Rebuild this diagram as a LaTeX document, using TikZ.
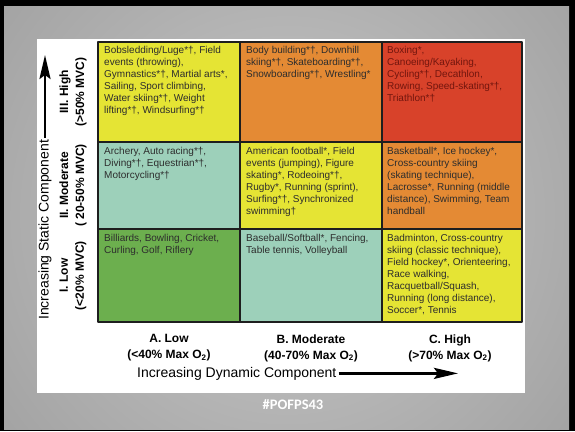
\documentclass[tikz,border=0pt]{standalone}
\usepackage{fontspec}
\usepackage{xcolor}
\setmainfont{Liberation Sans}
\newfontfamily\tagfont{Carlito}
\usetikzlibrary{arrows.meta}

% Colores de las celdas
\definecolor{cellyellow}{RGB}{229,228,52}
\definecolor{cellorange}{RGB}{228,138,52}
\definecolor{cellred}{RGB}{216,66,42}
\definecolor{cellteal}{RGB}{157,208,186}
\definecolor{cellgreen}{RGB}{108,175,78}
\definecolor{celltxt}{RGB}{45,45,45}
\definecolor{celltxtred}{RGB}{115,22,14}
\definecolor{gridedge}{RGB}{30,30,30}
% Fondo de la diapositiva
\definecolor{bgcentre}{RGB}{200,200,200}
\definecolor{bgmid}{RGB}{160,160,160}
\definecolor{bgside}{RGB}{66,66,66}
\definecolor{bgcorner}{RGB}{28,28,28}
\pgfdeclareradialshading{slideglow}{\pgfpoint{0bp}{0bp}}{color(0bp)=(bgcentre); color(27bp)=(bgmid); color(38bp)=(bgside); color(46bp)=(bgcorner); color(50bp)=(bgcorner)}

\begin{document}
\begin{tikzpicture}[x=1pt, y=-1pt, line cap=round, line join=round,
  celltext/.style={anchor=north west, align=left, inner sep=0pt, text=celltxt,
    font=\fontsize{10}{12}\selectfont},
  levellabel/.style={align=center, inner sep=0pt, font=\bfseries\fontsize{12}{16}\selectfont},
  axislabel/.style={inner sep=2pt, font=\fontsize{14}{16}\selectfont},
  axisarrow/.style={line width=2.6pt, line cap=butt, -{Stealth[length=24pt, width=11pt, inset=4pt]}},
  gridline/.style={line width=1.3pt, gridedge}]

\useasboundingbox (0,0) rectangle (575,431);

% === FONDO (diapositiva) ===
\fill[black] (0,0) rectangle (575,431);
\begin{scope}
    \clip (4,6) rectangle (569,429);
    \shade[shading=slideglow] (287,215) ++(-360,-360) rectangle ++(720,720);
\end{scope}
% Panel blanco
\fill[white] (37,39) rectangle (525,393);

% === CUADRICULA ===
% Relleno de las celdas
\foreach \xa/\xb/\ya/\yb/\c in {98/240/42/142/cellyellow, 240/382/42/142/cellorange,
    382/522/42/142/cellred, 98/240/142/229/cellteal, 240/382/142/229/cellyellow,
    382/522/142/229/cellorange, 98/240/229/322/cellgreen, 240/382/229/322/cellteal,
    382/522/229/322/cellyellow}{
    \fill[\c] (\xa,\ya) rectangle (\xb,\yb);
}
% Lineas interiores
\foreach \x in {240,382}{
    \draw[gridline] (\x,42) -- (\x,322);
}
\foreach \y in {142,229}{
    \draw[gridline] (98,\y) -- (522,\y);
}
% Borde exterior
\draw[line width=2pt, gridedge] (98,42) rectangle (522,322);

% === TEXTOS DE LAS CELDAS ===
% Fila III (alta)
\node[celltext] (a3) at (104,46) {Bobsledding/Luge*†, Field\\events (throwing),\\Gymnastics*†, Martial arts*,\\Sailing, Sport climbing,\\Water skiing*†, Weight\\lifting*†, Windsurfing*†};
\node[celltext] (b3) at (246,46) {Body building*†, Downhill\\skiing*†, Skateboarding*†,\\Snowboarding*†, Wrestling*};
\node[celltext, text=celltxtred] (c3) at (387,46) {Boxing*,\\Canoeing/Kayaking,\\Cycling*†, Decathlon,\\Rowing, Speed-skating*†,\\Triathlon*†};
% Fila II (moderada)
\node[celltext] (a2) at (104,147) {Archery, Auto racing*†,\\Diving*†, Equestrian*†,\\Motorcycling*†};
\node[celltext] (b2) at (246,147) {American football*, Field\\events (jumping), Figure\\skating*, Rodeoing*†,\\Rugby*, Running (sprint),\\Surfing*†, Synchronized\\swimming†};
\node[celltext] (c2) at (387,147) {Basketball*, Ice hockey*,\\Cross-country skiing\\(skating technique),\\Lacrosse*, Running (middle\\distance), Swimming, Team\\handball};
% Fila I (baja)
\node[celltext] (a1) at (104,234) {Billiards, Bowling, Cricket,\\Curling, Golf, Riflery};
\node[celltext] (b1) at (246,234) {Baseball/Softball*, Fencing,\\Table tennis, Volleyball};
\node[celltext] (c1) at (387,234) {Badminton, Cross-country\\skiing (classic technique),\\Field hockey*, Orienteering,\\Race walking,\\Racquetball/Squash,\\Running (long distance),\\Soccer*, Tennis};

% === ETIQUETAS DEL COMPONENTE ESTATICO (izquierda) ===
\node[levellabel, rotate=90] (high) at (73,92) {III. High\\(>50\% MVC)};
\node[levellabel, rotate=90] (moderate) at (73,185.5) {II. Moderate\\(\ 20-50\% MVC)};
\node[levellabel, rotate=90] (low) at (73,275.5) {I. Low\\(<20\% MVC)};
% Eje vertical con flecha
\node[axislabel, rotate=90, anchor=west] (stat) at (45,322) {Increasing Static Component};
\coordinate (stattip) at (45,55);
\draw[axisarrow] (stat.east) -- (stattip);

% === ETIQUETAS DEL COMPONENTE DINAMICO (abajo) ===
\node[levellabel] (lowdyn) at (169,348) {A. Low\\(<40\% Max O\textsubscript{2})};
\node[levellabel] (moddyn) at (311,348) {B. Moderate\\(40-70\% Max O\textsubscript{2})};
\node[levellabel] (highdyn) at (450,348) {C. High\\(>70\% Max O\textsubscript{2})};
% Eje horizontal con flecha
\node[axislabel, anchor=base west] (dyn) at (135,377) {Increasing Dynamic Component};
\coordinate (dyntip) at (458,374);
\draw[axisarrow] (dyn.east) -- (dyn.east -| dyntip);

% Etiqueta de la diapositiva
\node[font=\tagfont\bfseries\fontsize{14.5}{16}\selectfont, text=white] (tag) at (293,405) {\#POFPS43};

\end{tikzpicture}
\end{document}
